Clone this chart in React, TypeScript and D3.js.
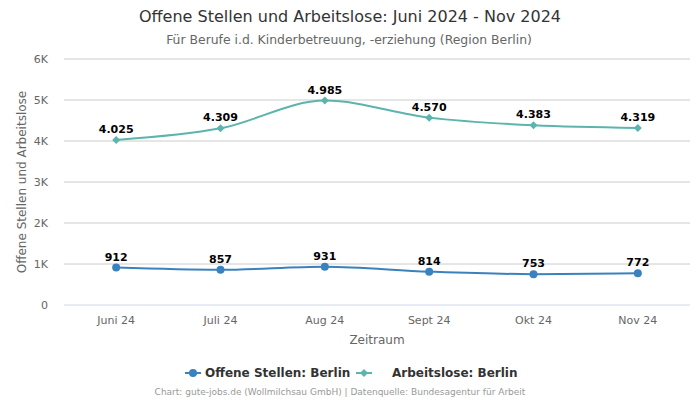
import React from "react";
import * as d3 from "d3";

const months = ["Juni 24", "Juli 24", "Aug 24", "Sept 24", "Okt 24", "Nov 24"];
const offeneStellen = [912, 857, 931, 814, 753, 772];
const arbeitslose = [4025, 4309, 4985, 4570, 4383, 4319];
const yTicks = [0, 1000, 2000, 3000, 4000, 5000, 6000];

const WIDTH = 700;
const HEIGHT = 400;
const MARGIN_LEFT = 64;
const MARGIN_RIGHT = 10;
const PLOT_TOP = 59;
const PLOT_BOTTOM = 305;

const BLUE = "#3a82be";
const TEAL = "#5cb4ae";
const FONT = "'DejaVu Sans', sans-serif";

const fmt = (v: number) => d3.format(",")(v).replace(/,/g, ".");
const tickFmt = (v: number) => (v === 0 ? "0" : `${v / 1000}K`);

export default function App() {
  const x = d3
    .scaleBand()
    .domain(months)
    .range([MARGIN_LEFT, WIDTH - MARGIN_RIGHT]);
  const y = d3.scaleLinear().domain([0, 6000]).range([PLOT_BOTTOM, PLOT_TOP]);
  const cx = (m: string) => x(m)! + x.bandwidth() / 2;

  const line = d3
    .line<number>()
    .x((_, i) => cx(months[i]))
    .y((d) => y(d))
    .curve(d3.curveMonotoneX);

  const diamond = (px: number, py: number, r: number) =>
    `M${px},${py - r}L${px + r},${py}L${px},${py + r}L${px - r},${py}Z`;

  return (
    <svg
      width={WIDTH}
      height={HEIGHT}
      style={{ position: "absolute", left: 0, top: 0, fontFamily: FONT }}
    >
      <rect width={WIDTH} height={HEIGHT} fill="#fff" />
      <text x={350} y={22} textAnchor="middle" fontSize={16} fill="#333">
        Offene Stellen und Arbeitslose: Juni 2024 - Nov 2024
      </text>
      <text x={349} y={44} textAnchor="middle" fontSize={12.4} fill="#666">
        Für Berufe i.d. Kinderbetreuung, -erziehung (Region Berlin)
      </text>

      {/* grid */}
      {yTicks.map((t) => (
        <g key={t}>
          <line
            x1={MARGIN_LEFT}
            x2={WIDTH - MARGIN_RIGHT}
            y1={y(t)}
            y2={y(t)}
            stroke={t === 0 ? "#ccd6eb" : "#cccccc"}
            strokeWidth={1}
          />
          <text
            x={48}
            y={y(t) + 4}
            textAnchor="end"
            fontSize={11}
            fill="#666"
          >
            {tickFmt(t)}
          </text>
        </g>
      ))}

      {months.map((m) => (
        <text
          key={m}
          x={cx(m)}
          y={324}
          textAnchor="middle"
          fontSize={11}
          fill="#666"
        >
          {m}
        </text>
      ))}

      <text x={377} y={344} textAnchor="middle" fontSize={12} fill="#666">
        Zeitraum
      </text>
      <text
        transform={`translate(26, ${(PLOT_TOP + PLOT_BOTTOM) / 2}) rotate(-90)`}
        textAnchor="middle"
        fontSize={12}
        fill="#666"
      >
        Offene Stellen und Arbeitslose
      </text>

      {/* series */}
      <path d={line(arbeitslose)!} fill="none" stroke={TEAL} strokeWidth={2} />
      <path d={line(offeneStellen)!} fill="none" stroke={BLUE} strokeWidth={2} />

      {arbeitslose.map((v, i) => (
        <g key={`a${i}`}>
          <path d={diamond(cx(months[i]), y(v), 4)} fill={TEAL} />
          <text
            x={cx(months[i])}
            y={y(v) - 7}
            textAnchor="middle"
            fontSize={11}
            fontWeight="bold"
            fill="#000"
          >
            {fmt(v)}
          </text>
        </g>
      ))}
      {offeneStellen.map((v, i) => (
        <g key={`o${i}`}>
          <circle cx={cx(months[i])} cy={y(v)} r={4} fill={BLUE} />
          <text
            x={cx(months[i])}
            y={y(v) - 7}
            textAnchor="middle"
            fontSize={11}
            fontWeight="bold"
            fill="#000"
          >
            {fmt(v)}
          </text>
        </g>
      ))}

      {/* legend */}
      <g>
        <line x1={185} x2={201} y1={373} y2={373} stroke={BLUE} strokeWidth={2} />
        <circle cx={193} cy={373} r={4} fill={BLUE} />
        <text x={205} y={377} fontSize={12} fontWeight="bold" fill="#333">
          Offene Stellen: Berlin
        </text>
        <line x1={356} x2={372} y1={373} y2={373} stroke={TEAL} strokeWidth={2} />
        <path d={diamond(364, 373, 4)} fill={TEAL} />
        <text x={392} y={377} fontSize={12} fontWeight="bold" fill="#333">
          Arbeitslose: Berlin
        </text>
      </g>

      <text x={340} y={395} textAnchor="middle" fontSize={9} fill="#999">
        Chart: gute-jobs.de (Wollmilchsau GmbH) | Datenquelle: Bundesagentur für Arbeit
      </text>
    </svg>
  );
}
